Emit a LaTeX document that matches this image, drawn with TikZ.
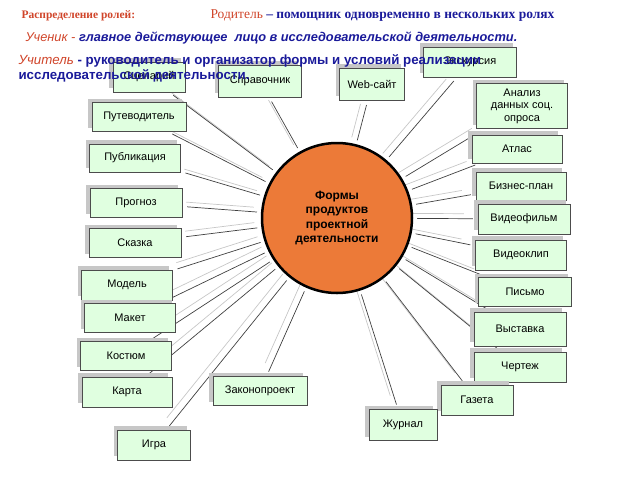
\documentclass[tikz,border=0pt]{standalone}
\usepackage{fontspec}
\setmainfont{Liberation Sans}
\newfontfamily\serf{Liberation Serif}
\usetikzlibrary{backgrounds}
\begin{document}
\begin{tikzpicture}[x=1pt,y=-1pt,
  bx/.style={draw=black!70,fill=green!12,minimum height=29pt,align=center,font=\fontsize{11}{12.5}\selectfont,inner sep=2pt},
  ln/.style={draw=black!75,line width=0.7pt,shorten <=5pt,shorten >=4pt},
  lg/.style={draw=black!22,line width=0.7pt,shorten <=9pt,shorten >=2pt}]
\definecolor{ored}{HTML}{D0452A}
\definecolor{dblue}{HTML}{1A1A9A}
\definecolor{orng}{HTML}{EC7A38}
\useasboundingbox (0,0) rectangle (640,480);
\node[circle,draw=black,line width=2.5pt,fill=orng,minimum size=150pt,align=center,font=\bfseries\fontsize{12}{14.5}\selectfont] (c) at (337,218) {Формы\\продуктов\\проектной\\деятельности};
\foreach \n/\x/\y/\w/\h/\t in {
 s1/149/77/72/30/Сценарий, s2/260/81/83/32/Справочник, s3/372/84/65/32/Web-сайт,
 s4/470/62/93/30/Экскурсия, s5/522/106/91/45/{Анализ\\данных соц.\\опроса},
 s6/139/117/94/29/Путеводитель, s7/135/158/91/28/Публикация, s8/517/149/90/28/Атлас,
 s9/521/186/90/28/Бизнес-план, s10/136/203/92/29/Прогноз, s11/524/219/92/30/Видеофильм,
 s12/135/243/92/29/Сказка, s13/521/255/91/30/Видеоклип, s14/127/285/91/30/Модель,
 s15/525/292/93/29/Письмо, s16/130/318/91/29/Макет, s17/520/329/92/34/Выставка,
 s18/126/356/91/29/Костюм, s19/520/367/92/30/Чертеж, s20/127/392/90/30/Карта,
 s21/260/391/94/29/Законопроект, s22/477/400/72/30/Газета, s23/403/425/68/31/Журнал,
 s24/154/445/73/30/Игра}{
  \fill[black!22] (\x-\w/2-4,\y-\h/2-4) rectangle (\x+\w/2-4,\y+\h/2-4);
  \node[bx,minimum width=\w pt,minimum height=\h pt] (\n) at (\x,\y) {\t};
}
\begin{scope}[on background layer]
\foreach \n in {s1,s2,s3,s4,s5,s6,s7,s8,s9,s10,s11,s12,s13,s14,s15,s16,s17,s18,s19,s20,s21,s22,s23,s24}{
  \path[lg,transform canvas={shift={(-5pt,5pt)}}] (\n) -- (c);
  \path[ln] (\n) -- (c);
}
\end{scope}
\node[anchor=west,font=\serf\bfseries\fontsize{11.5}{12}\selectfont,text=ored] (t1) at (18,16) {Распределение ролей:};
\node[anchor=west,font=\serf\fontsize{13.5}{14}\selectfont,text=ored] (t2) at (207,16) {Родитель \textcolor{dblue}{\bfseries – помощник одновременно в нескольких ролях}};
\node[anchor=west,font=\itshape\fontsize{12.8}{13}\selectfont,text=ored] (t3) at (22,38) {Ученик - \textcolor{dblue}{\bfseries главное действующее \ лицо в исследовательской деятельности.}};
\node[anchor=west,align=left,font=\fontsize{13.3}{15}\selectfont,text=dblue] (t4) at (15,68) {\textcolor{ored}{\itshape Учитель} \textbf{- руководитель и организатор формы и условий реализации}\\\textbf{исследовательской деятельности.}};
\end{tikzpicture}
\end{document}
